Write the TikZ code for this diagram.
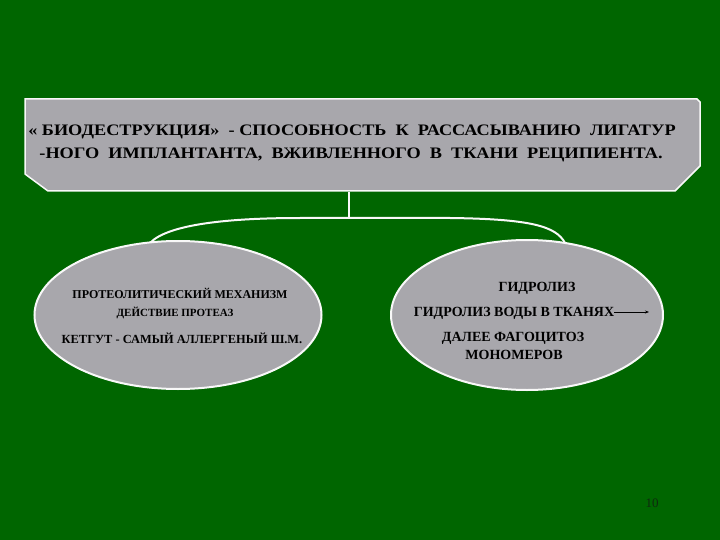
\documentclass[tikz,border=0pt]{standalone}
\usepackage{graphicx}
\usepackage{fontspec}
\setmainfont{Liberation Serif}
\usetikzlibrary{shapes.geometric,arrows.meta}
\definecolor{bggreen}{RGB}{0,102,0}
\definecolor{plate}{RGB}{168,167,172}
\definecolor{pagenum}{RGB}{15,40,15}
\tikzset{
  platebox/.style={fill=plate, draw=white!92!plate, line width=1.5pt, line join=miter},
  toptext/.style={font=\bfseries\fontsize{16}{19}\selectfont, inner sep=0pt},
  ell/.style={ellipse, fill=plate, draw=white!92!plate, line width=2pt, inner sep=0pt},
  small/.style={font=\bfseries\fontsize{#1}{#1}\selectfont, inner sep=0pt},
  small/.default=12,
  wire/.style={draw=white!92!plate, line width=2pt},
  arr/.style={draw=black, line width=1pt, -{Stealth[length=4pt,width=3pt]}}
}
\begin{document}
\begin{tikzpicture}[x=1pt,y=-1pt]
\fill[bggreen] (0,0) rectangle (720,540);
\useasboundingbox (0,0) rectangle (720,540);
% top plate
\draw[platebox] (25,99) -- (697,99) -- (700,102) -- (700,166) -- (675,191) -- (48,191) -- (25,174) -- cycle;
\coordinate (pb) at (349,192);
\node[toptext] (t1) at (352,132) {\scalebox{1.14}[1]{« БИОДЕСТРУКЦИЯ»\ \ - СПОСОБНОСТЬ\ \ К\ \ РАССАСЫВАНИЮ\ \ ЛИГАТУР}};
\node[toptext] (t2) at (351,155) {\scalebox{1.14}[1]{-НОГО\ \ ИМПЛАНТАНТА,\ \ ВЖИВЛЕННОГО\ \ В\ \ ТКАНИ\ \ РЕЦИПИЕНТА.}};
% connector brace
\coordinate (j) at (349,218);
\coordinate (bl) at (150,243);
\coordinate (br) at (565,243);
\draw[wire] (pb) -- (j);
\draw[wire] (bl) .. controls (168,224) and (230,218) .. (300,218) -- (j) -- (450,218) .. controls (530,219) and (556,226) .. (br);
% ellipses
\node[ell, minimum width=287pt, minimum height=148pt] (L) at (178,315) {};
\node[ell, minimum width=272pt, minimum height=150pt] (R) at (527,315) {};
% left texts
\node[small=12] (l1) at (180,293) {ПРОТЕОЛИТИЧЕСКИЙ МЕХАНИЗМ};
\node[small=11] (l2) at (175,313) {ДЕЙСТВИЕ ПРОТЕАЗ};
\node[small=12.4] (l3) at (182,338) {КЕТГУТ - САМЫЙ АЛЛЕРГЕНЫЙ Ш.М.};
% right texts
\node[small=14] (r1) at (537,288) {ГИДРОЛИЗ};
\node[small=14] (r2) at (514,313) {ГИДРОЛИЗ ВОДЫ В ТКАНЯХ};
\coordinate (ae) at (649,312);
\draw[arr] (r2.east) ++(0,-1) coordinate (as) (as) -- (ae);
\node[small=14] (r3) at (513,338) {ДАЛЕЕ ФАГОЦИТОЗ};
\node[small=14] (r4) at (514,355) {МОНОМЕРОВ};
% page number
\node[font=\fontsize{13}{15}\selectfont, text=pagenum, inner sep=0pt] (pn) at (652,503) {10};
\end{tikzpicture}
\end{document}
